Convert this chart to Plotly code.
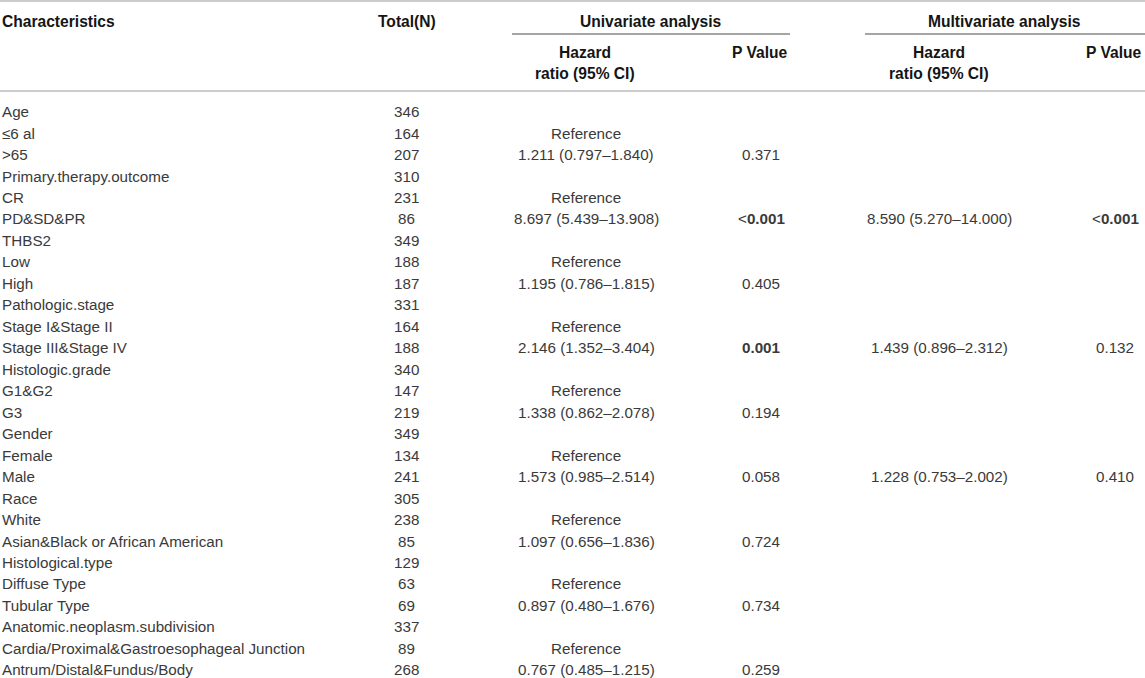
import plotly.graph_objects as go

characteristics = [
    "Age", "≤6 al", ">65", "Primary.therapy.outcome", "CR", "PD&SD&PR",
    "THBS2", "Low", "High", "Pathologic.stage", "Stage I&Stage II",
    "Stage III&Stage IV", "Histologic.grade", "G1&G2", "G3", "Gender",
    "Female", "Male", "Race", "White", "Asian&Black or African American",
    "Histological.type", "Diffuse Type", "Tubular Type",
    "Anatomic.neoplasm.subdivision",
    "Cardia/Proximal&Gastroesophageal Junction", "Antrum/Distal&Fundus/Body",
]
totals = [
    "346", "164", "207", "310", "231", "86", "349", "188", "187", "331",
    "164", "188", "340", "147", "219", "349", "134", "241", "305", "238",
    "85", "129", "63", "69", "337", "89", "268",
]
uni_hr = [
    "", "Reference", "1.211 (0.797–1.840)", "", "Reference",
    "8.697 (5.439–13.908)", "", "Reference", "1.195 (0.786–1.815)", "",
    "Reference", "2.146 (1.352–3.404)", "", "Reference",
    "1.338 (0.862–2.078)", "", "Reference", "1.573 (0.985–2.514)", "",
    "Reference", "1.097 (0.656–1.836)", "", "Reference",
    "0.897 (0.480–1.676)", "", "Reference", "0.767 (0.485–1.215)",
]
uni_p = [
    "", "", "0.371", "", "", "<0.001", "", "", "0.405", "", "", "0.001",
    "", "", "0.194", "", "", "0.058", "", "", "0.724", "", "", "0.734",
    "", "", "0.259",
]
multi_hr = [
    "", "", "", "", "", "8.590 (5.270–14.000)", "", "", "", "", "",
    "1.439 (0.896–2.312)", "", "", "", "", "", "1.228 (0.753–2.002)",
    "", "", "", "", "", "", "", "", "",
]
multi_p = [
    "", "", "", "", "", "<0.001", "", "", "", "", "", "0.132", "", "", "",
    "", "", "0.410", "", "", "", "", "", "", "", "", "",
]

FONT = "Liberation Sans, Arial, Helvetica, sans-serif"
BODY = "#3a3a3a"
HEAD = "#151515"
W, H = 1145, 678
ROW0, STEP = 111.6, 21.47  # pixel of first row and row pitch


def esc(s):
    return s.replace("&", "&amp;").replace("<", "&lt;").replace(">", "&gt;")


def p_text(s):
    # significant p values are set in bold, the "<" sign stays regular
    if not s:
        return ""
    val = float(s.lstrip("<"))
    if val < 0.05:
        if s.startswith("<"):
            return "&lt;<b>" + s[1:] + "</b>"
        return "<b>" + s + "</b>"
    return s


def row_y(px):
    return (px - ROW0) / STEP


fig = go.Figure()
ann = []


def add(x, y, text, anchor="center", color=BODY, size=15.2):
    ann.append(dict(
        x=x, y=y, xref="x", yref="y", text=text, showarrow=False,
        xanchor=anchor, yanchor="middle", align=anchor,
        font=dict(family=FONT, size=size, color=color),
    ))


for i, name in enumerate(characteristics):
    add(0, i, esc(name), "left")
    add(406, i, totals[i])
    if uni_hr[i]:
        add(586, i, uni_hr[i])
    if uni_p[i]:
        add(761, i, p_text(uni_p[i]))
    if multi_hr[i]:
        add(939, i, multi_hr[i])
    if multi_p[i]:
        add(1115, i, p_text(multi_p[i]))

# header
HS = 15.6
add(0, row_y(21), "<b>Characteristics</b>", "left", HEAD, HS)
add(407, row_y(21), "<b>Total(N)</b>", "center", HEAD, HS)
add(651, row_y(21), "<b>Univariate analysis</b>", "center", HEAD, HS)
add(1004, row_y(21), "<b>Multivariate analysis</b>", "center", HEAD, HS)
add(585, row_y(52), "<b>Hazard</b>", "center", HEAD, HS)
add(585, row_y(73), "<b>ratio (95% CI)</b>", "center", HEAD, HS)
add(939, row_y(52), "<b>Hazard</b>", "center", HEAD, HS)
add(939, row_y(73), "<b>ratio (95% CI)</b>", "center", HEAD, HS)
add(790, row_y(52), "<b>P Value</b>", "right", HEAD, HS)
add(1144, row_y(52), "<b>P Value</b>", "right", HEAD, HS)

shapes = [
    dict(type="line", x0=0, x1=W, y0=row_y(1), y1=row_y(1), xref="x", yref="y",
         line=dict(color="#cccccc", width=2)),
    dict(type="line", x0=0, x1=W, y0=row_y(91), y1=row_y(91), xref="x", yref="y",
         line=dict(color="#cccccc", width=2)),
    dict(type="line", x0=512, x1=790, y0=row_y(34), y1=row_y(34), xref="x", yref="y",
         line=dict(color="#4a4a4a", width=1)),
    dict(type="line", x0=865, x1=W, y0=row_y(34), y1=row_y(34), xref="x", yref="y",
         line=dict(color="#4a4a4a", width=1)),
]

fig.update_layout(
    width=W, height=H,
    margin=dict(l=0, r=0, t=0, b=0),
    paper_bgcolor="white", plot_bgcolor="white",
    xaxis=dict(range=[0, W], visible=False, fixedrange=True),
    yaxis=dict(range=[row_y(H), row_y(0)], visible=False, fixedrange=True),
    annotations=ann, shapes=shapes, showlegend=False,
)

fig.write_html(
    "out.html",
    config={"displayModeBar": False},
    post_script="document.body.style.margin='0';document.body.style.overflow='hidden';",
)
